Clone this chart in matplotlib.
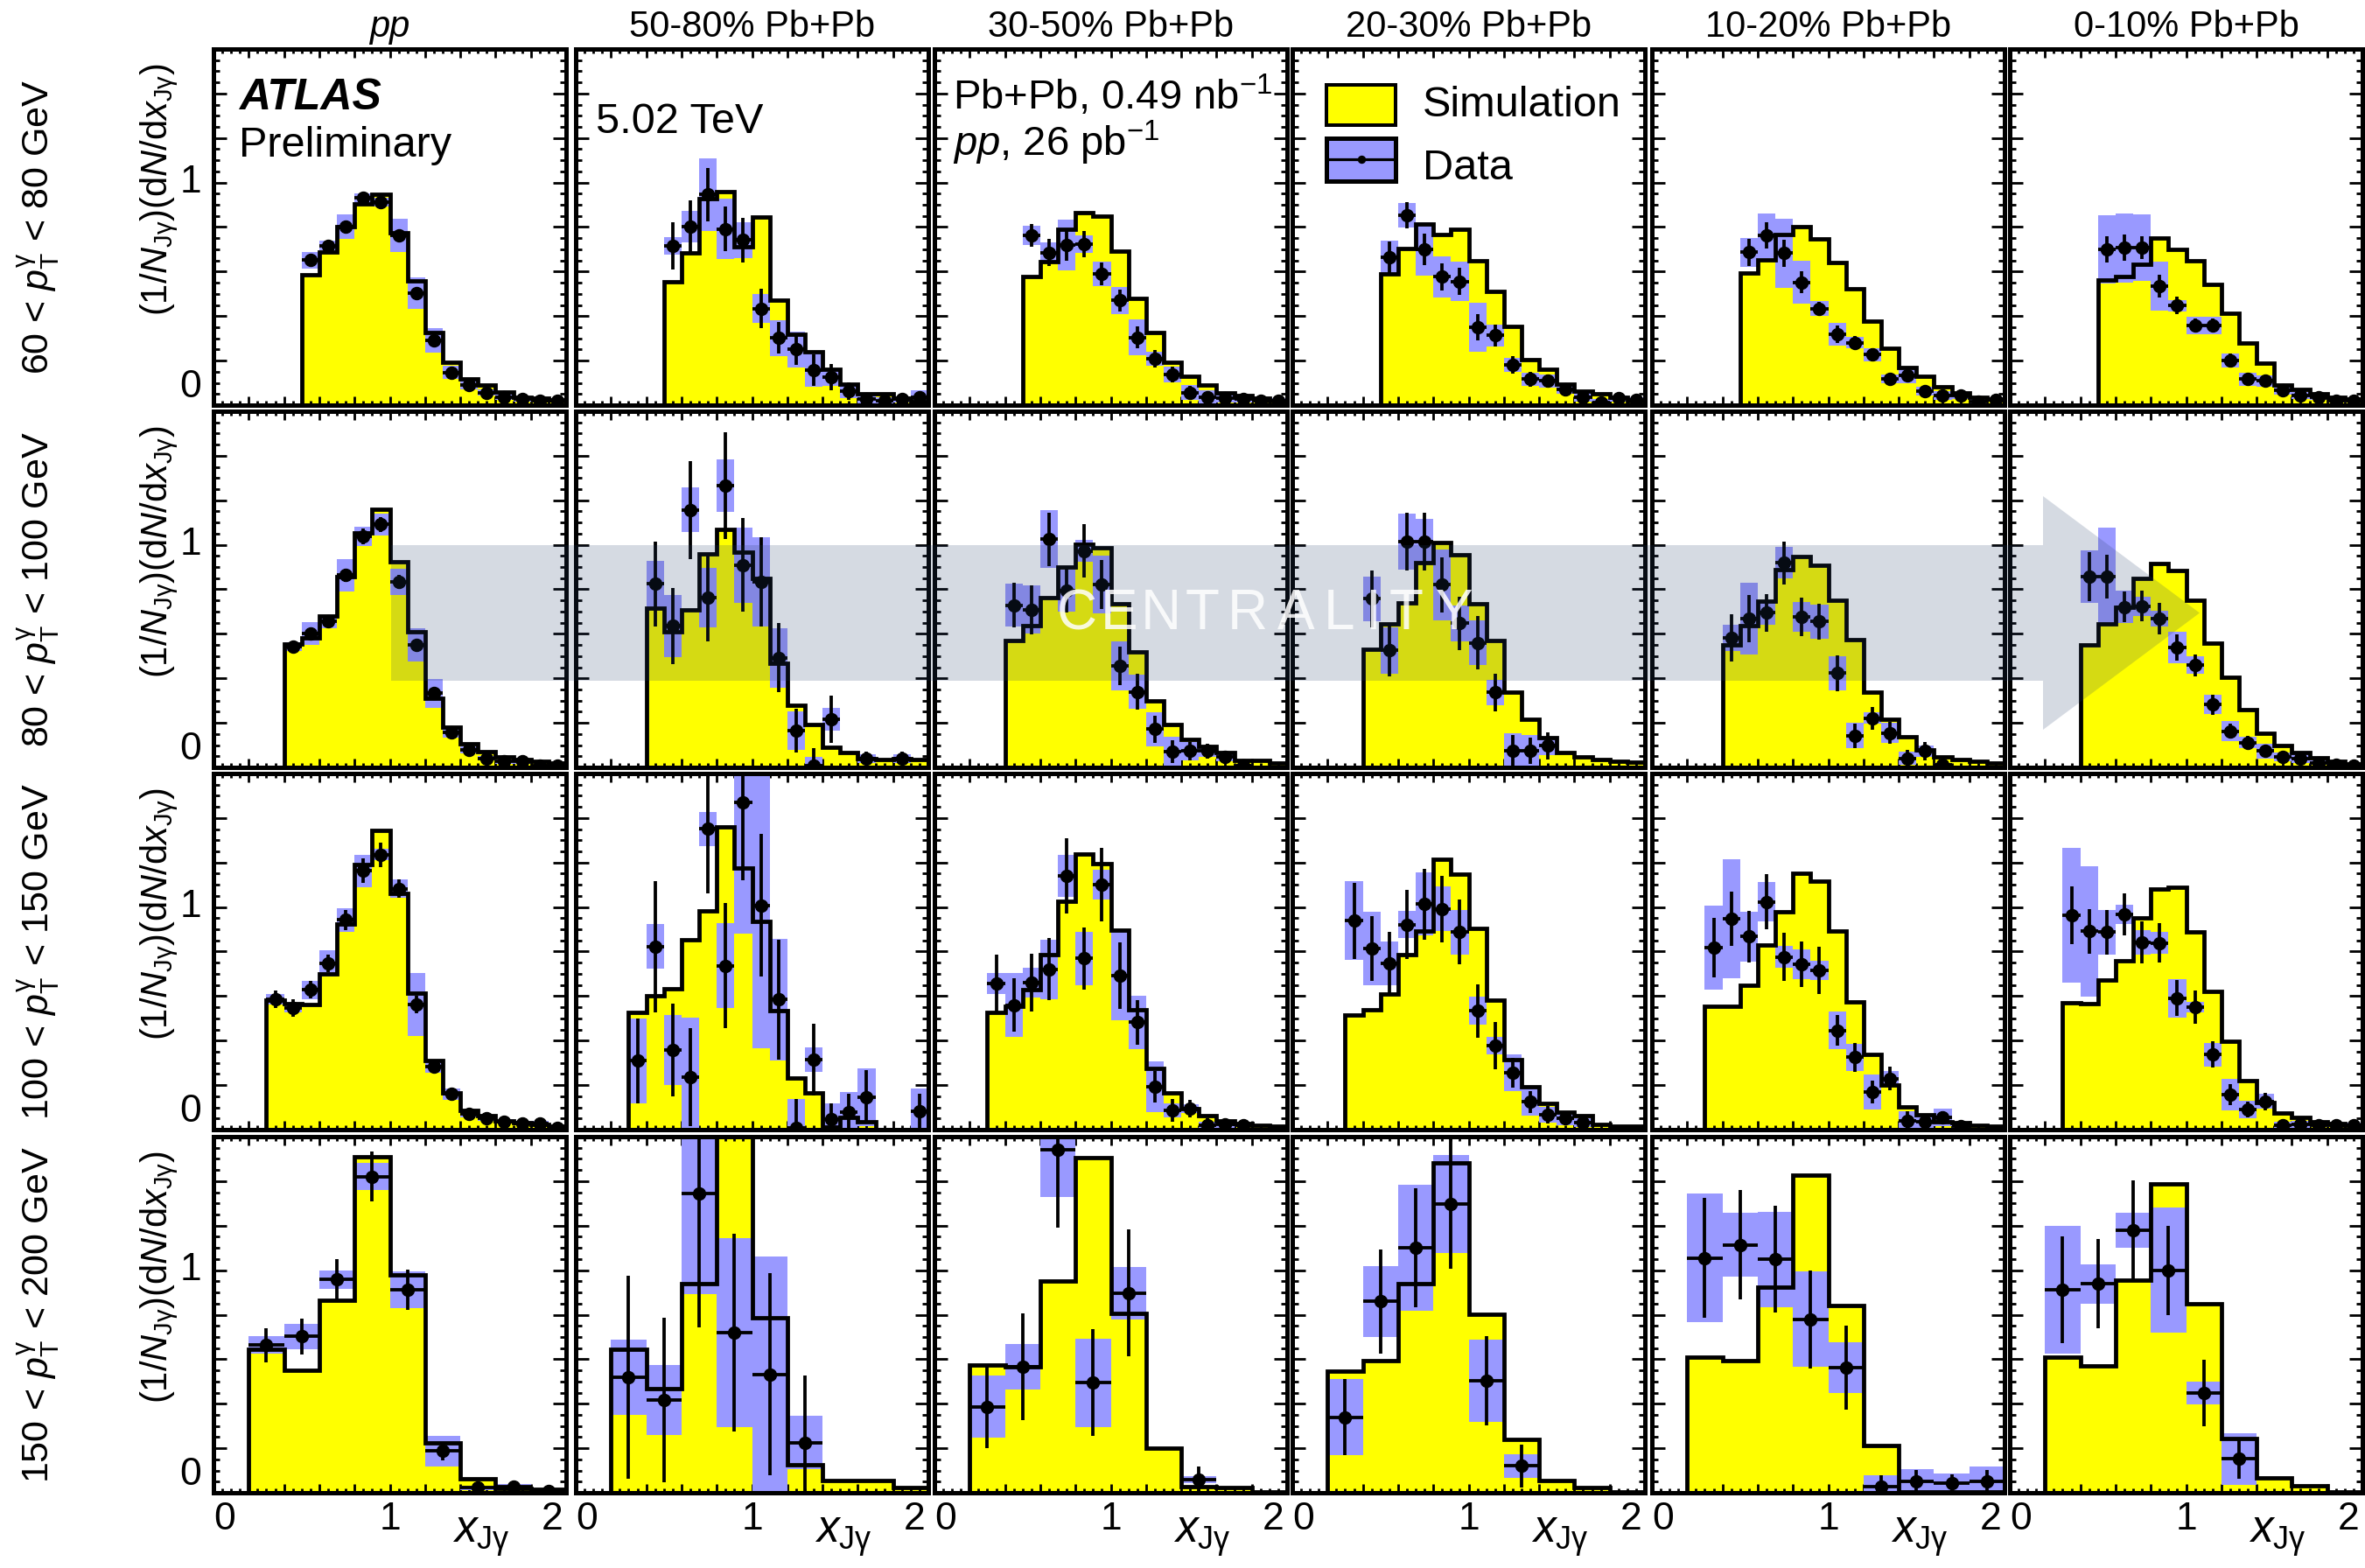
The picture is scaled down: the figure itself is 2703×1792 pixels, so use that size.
import numpy as np
import matplotlib
matplotlib.use("Agg")
import matplotlib.pyplot as plt
from matplotlib.ticker import MultipleLocator
from matplotlib.patches import Polygon, Rectangle
from matplotlib.lines import Line2D

plt.rcParams['font.family'] = ['Liberation Sans', 'DejaVu Sans']
plt.rcParams['mathtext.fontset'] = 'custom'
plt.rcParams['mathtext.rm'] = 'Liberation Sans'
plt.rcParams['mathtext.it'] = 'Liberation Sans:italic'
plt.rcParams['mathtext.bf'] = 'Liberation Sans:bold'

# ---------------- data ----------------
COLUMNS = ['pp', '50-80% Pb+Pb', '30-50% Pb+Pb', '20-30% Pb+Pb', '10-20% Pb+Pb', '0-10% Pb+Pb']
ROWS = [r'60 < $p_{\mathrm{T}}^{\mathrm{γ}}$ < 80 GeV',
        r'80 < $p_{\mathrm{T}}^{\mathrm{γ}}$ < 100 GeV',
        r'100 < $p_{\mathrm{T}}^{\mathrm{γ}}$ < 150 GeV',
        r'150 < $p_{\mathrm{T}}^{\mathrm{γ}}$ < 200 GeV']

# bin edges in x_Jgamma for each photon pT bin
EDGES_60_80 = [0.5, 0.6, 0.7, 0.8, 0.9, 1.0, 1.1, 1.2, 1.3, 1.4, 1.5, 1.6, 1.7, 1.8, 1.9, 2.0]
EDGES_80_100 = [0.4, 0.5, 0.6, 0.7, 0.8, 0.9, 1.0, 1.1, 1.2, 1.3, 1.4, 1.5, 1.6, 1.7, 1.8, 1.9, 2.0]
EDGES_100_150 = [0.3, 0.4, 0.5, 0.6, 0.7, 0.8, 0.9, 1.0, 1.1, 1.2, 1.3, 1.4, 1.5, 1.6, 1.7, 1.8, 1.9, 2.0]
EDGES_150_200 = [0.2, 0.4, 0.6, 0.8, 1.0, 1.2, 1.4, 1.6, 1.8, 2.0]

# simulation (one list per centrality column: pp, 50-80, 30-50, 20-30, 10-20, 0-10)
SIM_60_80 = [
    [0.585, 0.687, 0.803, 0.904, 0.949, 0.773, 0.560, 0.326, 0.192, 0.118, 0.089, 0.059, 0.037, 0.030, 0.024],
    [0.556, 0.683, 0.926, 0.959, 0.711, 0.845, 0.470, 0.319, 0.238, 0.162, 0.096, 0.050, 0.050, 0.030, 0.017],
    [0.576, 0.644, 0.792, 0.865, 0.849, 0.691, 0.481, 0.326, 0.194, 0.129, 0.089, 0.057, 0.043, 0.030, 0.021],
    [0.591, 0.704, 0.812, 0.766, 0.792, 0.648, 0.512, 0.352, 0.204, 0.162, 0.096, 0.063, 0.050, 0.034, 0.021],
    [0.595, 0.654, 0.766, 0.802, 0.746, 0.641, 0.523, 0.378, 0.254, 0.171, 0.131, 0.083, 0.057, 0.037, 0.026],
    [0.562, 0.578, 0.632, 0.749, 0.700, 0.648, 0.543, 0.411, 0.280, 0.188, 0.089, 0.070, 0.050, 0.037, 0.026],
]
DATA_60_80 = [
    [0.652, 0.716, 0.802, 0.930, 0.911, 0.763, 0.503, 0.289, 0.146, 0.092, 0.057, 0.037, 0.026, 0.020, 0.020],
    [0.716, 0.803, 0.946, 0.792, 0.742, 0.434, 0.302, 0.250, 0.158, 0.126, 0.063, 0.026, 0.021, 0.026, 0.037],
    [0.763, 0.685, 0.720, 0.723, 0.589, 0.470, 0.304, 0.208, 0.139, 0.057, 0.037, 0.030, 0.026, 0.020, 0.020],
    [0.664, 0.854, 0.700, 0.576, 0.556, 0.350, 0.313, 0.181, 0.116, 0.109, 0.070, 0.037, 0.013, 0.030, 0.024],
    [0.687, 0.762, 0.683, 0.552, 0.434, 0.319, 0.280, 0.227, 0.118, 0.135, 0.063, 0.043, 0.043, 0.017, 0.024],
    [0.700, 0.707, 0.707, 0.534, 0.447, 0.359, 0.359, 0.201, 0.116, 0.109, 0.066, 0.043, 0.034, 0.020, 0.020],
]
SYST_60_80 = [
    [0.037, 0.022, 0.055, 0.020, 0.020, 0.075, 0.070, 0.055, 0.030, 0.020, 0.015, 0.015, 0.012, 0.010, 0.010],
    [0.040, 0.070, 0.163, 0.135, 0.080, 0.065, 0.080, 0.080, 0.075, 0.040, 0.030, 0.020, 0.015, 0.015, 0.030],
    [0.043, 0.046, 0.115, 0.040, 0.056, 0.060, 0.080, 0.030, 0.035, 0.035, 0.030, 0.020, 0.015, 0.010, 0.010],
    [0.074, 0.056, 0.120, 0.092, 0.090, 0.110, 0.050, 0.030, 0.030, 0.030, 0.020, 0.020, 0.015, 0.015, 0.010],
    [0.064, 0.100, 0.155, 0.095, 0.033, 0.050, 0.025, 0.030, 0.020, 0.035, 0.020, 0.020, 0.015, 0.010, 0.010],
    [0.155, 0.155, 0.150, 0.110, 0.025, 0.040, 0.040, 0.030, 0.030, 0.025, 0.020, 0.015, 0.010, 0.010, 0.010],
]
STAT_60_80 = [
    [0.020, 0.020, 0.020, 0.020, 0.020, 0.020, 0.020, 0.020, 0.015, 0.012, 0.010, 0.010, 0.008, 0.008, 0.008],
    [0.107, 0.115, 0.120, 0.100, 0.100, 0.090, 0.070, 0.070, 0.070, 0.060, 0.040, 0.020, 0.020, 0.020, 0.020],
    [0.050, 0.060, 0.070, 0.060, 0.050, 0.050, 0.050, 0.040, 0.035, 0.030, 0.020, 0.020, 0.015, 0.010, 0.010],
    [0.070, 0.060, 0.070, 0.060, 0.060, 0.060, 0.050, 0.040, 0.035, 0.030, 0.030, 0.020, 0.020, 0.020, 0.010],
    [0.060, 0.060, 0.060, 0.050, 0.030, 0.040, 0.030, 0.030, 0.025, 0.030, 0.020, 0.020, 0.015, 0.010, 0.010],
    [0.060, 0.060, 0.050, 0.050, 0.040, 0.030, 0.030, 0.030, 0.025, 0.020, 0.020, 0.015, 0.010, 0.010, 0.010],
]

SIM_80_100 = [
    [0.556, 0.582, 0.681, 0.856, 1.054, 1.160, 0.922, 0.608, 0.311, 0.181, 0.106, 0.070, 0.046, 0.036, 0.026, 0.020],
    [0.717, 0.611, 0.708, 0.959, 1.069, 0.966, 0.849, 0.466, 0.278, 0.192, 0.089, 0.066, 0.040, 0.036, 0.040, 0.036],
    [0.569, 0.635, 0.763, 0.899, 1.001, 0.985, 0.734, 0.519, 0.298, 0.194, 0.126, 0.093, 0.066, 0.033, 0.030, 0.020],
    [0.532, 0.646, 0.741, 0.919, 1.012, 0.956, 0.737, 0.571, 0.337, 0.218, 0.132, 0.066, 0.046, 0.036, 0.026, 0.022],
    [0.552, 0.635, 0.747, 0.889, 0.946, 0.909, 0.750, 0.575, 0.337, 0.218, 0.139, 0.079, 0.046, 0.036, 0.026, 0.020],
    [0.552, 0.646, 0.721, 0.849, 0.917, 0.884, 0.750, 0.558, 0.406, 0.261, 0.152, 0.097, 0.066, 0.044, 0.026, 0.017],
]
DATA_80_100 = [
    [0.542, 0.602, 0.655, 0.864, 1.038, 1.091, 0.833, 0.549, 0.333, 0.159, 0.079, 0.040, 0.026, 0.026, 0.007, 0.007],
    [0.824, 0.635, 1.157, 0.763, 1.266, 0.909, 0.833, 0.492, 0.165, 0.007, 0.216, None, 0.040, None, 0.040, None],
    [0.728, 0.708, 1.025, 0.794, 0.972, 0.820, 0.456, 0.340, 0.172, 0.070, 0.073, 0.073, 0.046, 0.007, None, None],
    [0.757, 0.525, 1.015, 1.015, 0.820, 0.648, 0.560, 0.337, 0.075, 0.075, 0.097, None, None, None, None, None],
    [0.582, 0.668, 0.694, 0.919, 0.677, 0.655, 0.423, 0.143, 0.221, 0.155, 0.040, 0.073, 0.010, None, None, None],
    [0.857, 0.857, 0.721, 0.725, 0.668, 0.538, 0.459, 0.282, 0.163, 0.112, 0.073, 0.046, 0.040, 0.020, 0.013, 0.009],
]
SYST_80_100 = [
    [0.020, 0.050, 0.030, 0.073, 0.044, 0.050, 0.060, 0.075, 0.066, 0.025, 0.015, 0.010, 0.010, 0.010, 0.005, 0.005],
    [0.104, 0.139, 0.100, 0.134, 0.118, 0.170, 0.200, 0.134, 0.085, 0.040, 0.050, 0.0, 0.020, 0.0, 0.020, 0.0],
    [0.096, 0.108, 0.130, 0.093, 0.050, 0.130, 0.112, 0.077, 0.076, 0.066, 0.040, 0.025, 0.020, 0.010, 0.0, 0.0],
    [0.100, 0.103, 0.125, 0.100, 0.160, 0.080, 0.100, 0.058, 0.080, 0.070, 0.040, 0.0, 0.0, 0.0, 0.0, 0.0],
    [0.060, 0.160, 0.055, 0.070, 0.067, 0.076, 0.076, 0.056, 0.026, 0.046, 0.030, 0.025, 0.010, 0.0, 0.0, 0.0],
    [0.117, 0.220, 0.074, 0.043, 0.036, 0.070, 0.040, 0.043, 0.044, 0.026, 0.033, 0.020, 0.020, 0.010, 0.010, 0.010],
]
STAT_80_100 = [
    [0.025, 0.025, 0.025, 0.030, 0.035, 0.035, 0.030, 0.025, 0.020, 0.015, 0.010, 0.010, 0.010, 0.010, 0.005, 0.005],
    [0.190, 0.170, 0.220, 0.195, 0.240, 0.210, 0.200, 0.155, 0.100, 0.080, 0.105, 0.0, 0.030, 0.0, 0.030, 0.0],
    [0.100, 0.110, 0.120, 0.100, 0.120, 0.110, 0.087, 0.080, 0.060, 0.050, 0.040, 0.035, 0.030, 0.020, 0.0, 0.0],
    [0.127, 0.115, 0.130, 0.130, 0.125, 0.120, 0.120, 0.085, 0.070, 0.060, 0.060, 0.0, 0.0, 0.0, 0.0, 0.0],
    [0.106, 0.106, 0.086, 0.097, 0.087, 0.080, 0.080, 0.055, 0.050, 0.050, 0.040, 0.040, 0.020, 0.0, 0.0, 0.0],
    [0.110, 0.100, 0.070, 0.070, 0.070, 0.060, 0.050, 0.045, 0.035, 0.030, 0.025, 0.020, 0.020, 0.015, 0.010, 0.010],
]

SIM_100_150 = [
    [0.582, 0.565, 0.562, 0.700, 0.925, 1.191, 1.344, 1.063, 0.615, 0.311, 0.166, 0.087, 0.063, 0.041, 0.032, 0.024, 0.015],
    [0.526, 0.602, 0.631, 0.852, 0.982, 1.360, 1.175, 0.934, 0.533, 0.230, 0.166, 0.010, 0.054, 0.037, 0.0, 0.0, 0.0],
    [0.525, 0.555, 0.628, 0.786, 1.026, 1.237, 1.195, 0.898, 0.538, 0.274, 0.166, 0.096, 0.063, 0.041, 0.028, 0.018, 0.015],
    [0.516, 0.538, 0.608, 0.786, 0.894, 1.215, 1.149, 0.905, 0.582, 0.314, 0.193, 0.116, 0.080, 0.061, 0.024, 0.015, 0.015],
    [0.555, 0.555, 0.648, 0.828, 0.978, 1.150, 1.116, 0.892, 0.575, 0.338, 0.200, 0.103, 0.067, 0.034, 0.030, 0.020, 0.015],
    [0.569, 0.565, 0.674, 0.757, 0.951, 1.080, 1.090, 0.888, 0.621, 0.397, 0.219, 0.120, 0.074, 0.054, 0.037, 0.028, 0.021],
]
DATA_100_150 = [
    [0.586, 0.546, 0.628, 0.747, 0.942, 1.162, 1.235, 1.083, 0.562, 0.285, 0.160, 0.070, 0.050, 0.037, 0.028, 0.028, 0.008],
    [0.309, 0.822, 0.358, 0.235, 1.351, 0.737, 1.470, 1.007, 0.584, 0.008, 0.314, 0.047, 0.080, 0.146, None, None, 0.083],
    [0.657, 0.559, 0.661, 0.720, 1.140, 0.769, 1.100, 0.691, 0.483, 0.193, 0.087, 0.094, 0.020, 0.024, 0.020, None, None],
    [0.938, 0.813, 0.747, 0.921, 1.013, 0.991, 0.888, 0.534, 0.377, 0.255, 0.124, 0.067, 0.050, 0.032, None, None, None],
    [0.818, 0.947, 0.867, 1.024, 0.776, 0.743, 0.716, 0.446, 0.325, 0.169, 0.229, 0.041, 0.034, 0.054, 0.015, None, None],
    [0.964, 0.892, 0.888, 0.968, 0.842, 0.839, 0.591, 0.549, 0.338, 0.157, 0.090, 0.127, 0.021, 0.024, 0.021, 0.020, 0.020],
]
SYST_100_150 = [
    [0.023, 0.020, 0.042, 0.060, 0.053, 0.072, 0.025, 0.043, 0.142, 0.030, 0.026, 0.015, 0.010, 0.010, 0.010, 0.010, 0.005],
    [0.190, 0.100, 0.156, 0.270, 0.077, 0.190, 0.590, 0.640, 0.274, 0.130, 0.055, 0.070, 0.090, 0.130, 0.0, 0.0, 0.100],
    [0.048, 0.144, 0.068, 0.133, 0.095, 0.120, 0.066, 0.200, 0.120, 0.115, 0.030, 0.020, 0.015, 0.015, 0.010, 0.0, 0.0],
    [0.177, 0.165, 0.097, 0.062, 0.142, 0.100, 0.100, 0.064, 0.040, 0.083, 0.060, 0.035, 0.030, 0.020, 0.0, 0.0, 0.0],
    [0.189, 0.267, 0.112, 0.089, 0.050, 0.066, 0.043, 0.086, 0.062, 0.080, 0.036, 0.040, 0.030, 0.040, 0.010, 0.0, 0.0],
    [0.303, 0.293, 0.100, 0.043, 0.056, 0.050, 0.086, 0.024, 0.053, 0.070, 0.038, 0.033, 0.015, 0.015, 0.010, 0.010, 0.010],
]
STAT_100_150 = [
    [0.040, 0.040, 0.040, 0.040, 0.045, 0.055, 0.055, 0.040, 0.040, 0.030, 0.020, 0.015, 0.010, 0.010, 0.010, 0.010, 0.005],
    [0.190, 0.295, 0.210, 0.220, 0.290, 0.280, 0.350, 0.320, 0.270, 0.130, 0.160, 0.070, 0.080, 0.120, 0.0, 0.0, 0.080],
    [0.130, 0.120, 0.130, 0.140, 0.170, 0.140, 0.165, 0.150, 0.100, 0.070, 0.050, 0.040, 0.030, 0.020, 0.020, 0.0, 0.0],
    [0.170, 0.145, 0.140, 0.155, 0.160, 0.150, 0.145, 0.120, 0.105, 0.066, 0.050, 0.040, 0.030, 0.020, 0.0, 0.0, 0.0],
    [0.135, 0.122, 0.115, 0.122, 0.108, 0.102, 0.105, 0.070, 0.066, 0.050, 0.053, 0.040, 0.030, 0.030, 0.015, 0.0, 0.0],
    [0.130, 0.100, 0.100, 0.095, 0.094, 0.090, 0.080, 0.075, 0.058, 0.046, 0.035, 0.040, 0.020, 0.020, 0.015, 0.010, 0.010],
]

SIM_150_200 = [
    [0.643, 0.549, 0.865, 1.510, 0.978, 0.225, 0.063, 0.020, 0.017],
    [0.643, 0.468, 0.941, 1.750, 0.788, 0.124, 0.056, 0.056, 0.022],
    [0.575, 0.566, 0.952, 1.507, 0.807, 0.199, 0.026, 0.022, 0.005],
    [0.545, 0.592, 0.941, 1.481, 0.801, 0.239, 0.056, 0.022, 0.004],
    [0.608, 0.595, 0.925, 1.427, 0.843, 0.212, 0.004, 0.004, 0.004],
    [0.608, 0.571, 0.957, 1.388, 0.850, 0.244, 0.065, 0.033, 0.004],
]
DATA_150_200 = [
    [0.664, 0.703, 0.958, 1.421, 0.912, 0.187, 0.022, 0.026, 0.009],
    [0.519, 0.416, 1.344, 0.719, 0.532, 0.226, None, None, None],
    [0.386, 0.565, 1.540, 0.494, 0.898, None, 0.059, None, None],
    [0.340, 0.859, 1.100, 1.297, 0.503, 0.120, None, None, None],
    [1.055, 1.114, 1.048, 0.780, 0.562, 0.029, 0.052, 0.042, 0.052],
    [0.912, 0.939, 1.179, 1.000, 0.448, 0.153, None, None, None],
]
SYST_150_200 = [
    [0.040, 0.057, 0.042, 0.062, 0.084, 0.069, 0.010, 0.015, 0.005],
    [0.170, 0.157, 0.450, 0.425, 0.530, 0.118, 0.0, 0.0, 0.0],
    [0.140, 0.102, 0.210, 0.198, 0.118, 0.0, 0.015, 0.0, 0.0],
    [0.172, 0.160, 0.284, 0.219, 0.186, 0.052, 0.0, 0.0, 0.0],
    [0.290, 0.143, 0.214, 0.214, 0.114, 0.050, 0.055, 0.045, 0.065],
    [0.288, 0.088, 0.078, 0.280, 0.050, 0.116, 0.0, 0.0, 0.0],
]
STAT_150_200 = [
    [0.077, 0.080, 0.090, 0.113, 0.090, 0.040, 0.020, 0.015, 0.010],
    [0.456, 0.370, 0.600, 0.445, 0.455, 0.300, 0.0, 0.0, 0.0],
    [0.185, 0.240, 0.350, 0.240, 0.285, 0.0, 0.060, 0.0, 0.0],
    [0.170, 0.232, 0.267, 0.290, 0.200, 0.095, 0.0, 0.0, 0.0],
    [0.268, 0.246, 0.240, 0.220, 0.190, 0.050, 0.050, 0.040, 0.050],
    [0.240, 0.200, 0.226, 0.200, 0.148, 0.090, 0.0, 0.0, 0.0],
]

EDGES = [EDGES_60_80, EDGES_80_100, EDGES_100_150, EDGES_150_200]
SIM = [SIM_60_80, SIM_80_100, SIM_100_150, SIM_150_200]
DATA = [DATA_60_80, DATA_80_100, DATA_100_150, DATA_150_200]
SYST = [SYST_60_80, SYST_80_100, SYST_100_150, SYST_150_200]
STAT = [STAT_60_80, STAT_80_100, STAT_100_150, STAT_150_200]

# ---------------- layout (pixels of a 2703x1792 canvas) ----------------
W, H = 2703, 1792
PANEL_LEFT = [244, 658, 1068, 1477, 1888, 2297]
PANEL_TOP = [56, 470, 884, 1299]
PANEL_W, PANEL_H = 403, 407

YELLOW = '#ffff00'
BLUE = '#9999ff'
px = 72.0 / 100  # points per pixel at dpi 100

fig = plt.figure(figsize=(W / 100, H / 100), dpi=100)

for r in range(4):
    edges = np.array(EDGES[r])
    cent = 0.5 * (edges[:-1] + edges[1:])
    wid = np.diff(edges)
    for c in range(6):
        ax = fig.add_axes([PANEL_LEFT[c] / W, 1 - (PANEL_TOP[r] + PANEL_H) / H,
                           PANEL_W / W, PANEL_H / H])
        sim = np.array(SIM[r][c])
        d = np.array(DATA[r][c], dtype=float)
        sy = np.array(SYST[r][c])
        st = np.array(STAT[r][c])
        m = ~np.isnan(d)

        ax.stairs(sim, edges, fill=True, color=YELLOW, lw=0, zorder=1)
        ax.bar(cent[m], 2 * sy[m], bottom=d[m] - sy[m], width=wid[m],
               color=BLUE, lw=0, zorder=2)
        ax.stairs(sim, edges, color='black', lw=4.8 * px, baseline=0, zorder=3)
        ax.errorbar(cent[m], d[m], xerr=wid[m] / 2, yerr=st[m], fmt='o',
                    color='black', ms=14 * px, elinewidth=3.8 * px, capsize=0, zorder=4)

        ax.set_xlim(0, 2)
        ax.set_ylim(0, 1.6)
        ax.xaxis.set_major_locator(MultipleLocator(0.2))
        ax.xaxis.set_minor_locator(MultipleLocator(0.05))
        ax.yaxis.set_major_locator(MultipleLocator(0.2))
        ax.yaxis.set_minor_locator(MultipleLocator(0.05))
        ax.tick_params(which='both', direction='in', top=True, right=True,
                       labelbottom=False, labelleft=False, width=2.8 * px)
        ax.tick_params(axis='x', which='major', length=10 * px)
        ax.tick_params(axis='x', which='minor', length=5 * px)
        ax.tick_params(axis='y', which='major', length=15 * px)
        ax.tick_params(axis='y', which='minor', length=7 * px)
        for s in ax.spines.values():
            s.set_linewidth(5 * px)

        if c == 0:
            yt = ax.get_yaxis_transform()
            ax.text(-14 / PANEL_W, 0, '0', transform=yt, ha='right', va='bottom', fontsize=32)
            ax.text(-14 / PANEL_W, 1, '1', transform=yt, ha='right', va='center', fontsize=32)
        if r == 3:
            xt = ax.get_xaxis_transform()
            yoff = -10 / PANEL_H
            ax.text(0, yoff, '0', transform=xt, ha='left', va='top', fontsize=32)
            ax.text(1, yoff, '1', transform=xt, ha='center', va='top', fontsize=32)
            ax.text(1.985, yoff, '2', transform=xt, ha='right', va='top', fontsize=32)
            ax.text(0.678, -57 / PANEL_H, r'$x_{\mathrm{Jγ}}$', transform=ax.transAxes,
                    ha='left', va='baseline', fontsize=37)

# column titles, row labels and y-axis titles
for c, name in enumerate(COLUMNS):
    fig.text((PANEL_LEFT[c] + PANEL_W / 2) / W, 1 - 31 / H, name, ha='center', va='center',
             fontsize=30, style='italic' if name == 'pp' else 'normal')
for r, name in enumerate(ROWS):
    fig.text(44 / W, 1 - (PANEL_TOP[r] + PANEL_H / 2) / H, name, rotation=90,
             ha='center', va='center', fontsize=31)
    fig.text(182 / W, 1 - (PANEL_TOP[r] + 16) / H,
             r'(1/$N_{\mathrm{Jγ}}$)(d$N$/d$x_{\mathrm{Jγ}}$)', rotation=90,
             ha='center', va='top', fontsize=30)

# overlay in canvas pixels: centrality arrow, labels, legend
ov = fig.add_axes([0, 0, 1, 1], zorder=10)
ov.set_xlim(0, W)
ov.set_ylim(H, 0)
ov.axis('off')

arrow = [(447, 623), (2335, 623), (2335, 567), (2514, 700.5), (2335, 834),
         (2335, 778), (447, 778)]
ov.add_patch(Polygon(arrow, closed=True, facecolor='#253c69', alpha=0.19, lw=0))
letter_x = [1231, 1279, 1327, 1374, 1426, 1481, 1531, 1569, 1607, 1662]
for ch, x in zip('CENTRALITY', letter_x):
    ov.text(x, 702, ch, ha='center', va='center', fontsize=46, color='white', alpha=0.85,
            family=['Liberation Sans', 'DejaVu Sans'])

ov.text(273, 125, 'ATLAS', fontsize=36, weight='bold', style='italic', va='baseline')
ov.text(273, 179, 'Preliminary', fontsize=35, va='baseline')
ov.text(681, 152, '5.02 TeV', fontsize=35, va='baseline')
ov.text(1089, 125, r'Pb+Pb, 0.49 nb$^{-1}$', fontsize=34, va='baseline')
ov.text(1089, 178, r'$pp$, 26 pb$^{-1}$', fontsize=34, va='baseline')

ov.add_patch(Rectangle((1516, 97), 79, 46, facecolor=YELLOW, edgecolor='black', lw=4 * px))
ov.add_patch(Rectangle((1516, 158), 79, 49, facecolor=BLUE, edgecolor='black', lw=5 * px))
ov.add_line(Line2D([1516, 1595], [182.5, 182.5], color='black', lw=3.2 * px))
ov.plot([1555.5], [182.5], 'o', color='black', ms=8 * px)
ov.text(1626, 133, 'Simulation', fontsize=35, va='baseline')
ov.text(1626, 205, 'Data', fontsize=35, va='baseline')

fig.savefig('out.png', dpi=100)
